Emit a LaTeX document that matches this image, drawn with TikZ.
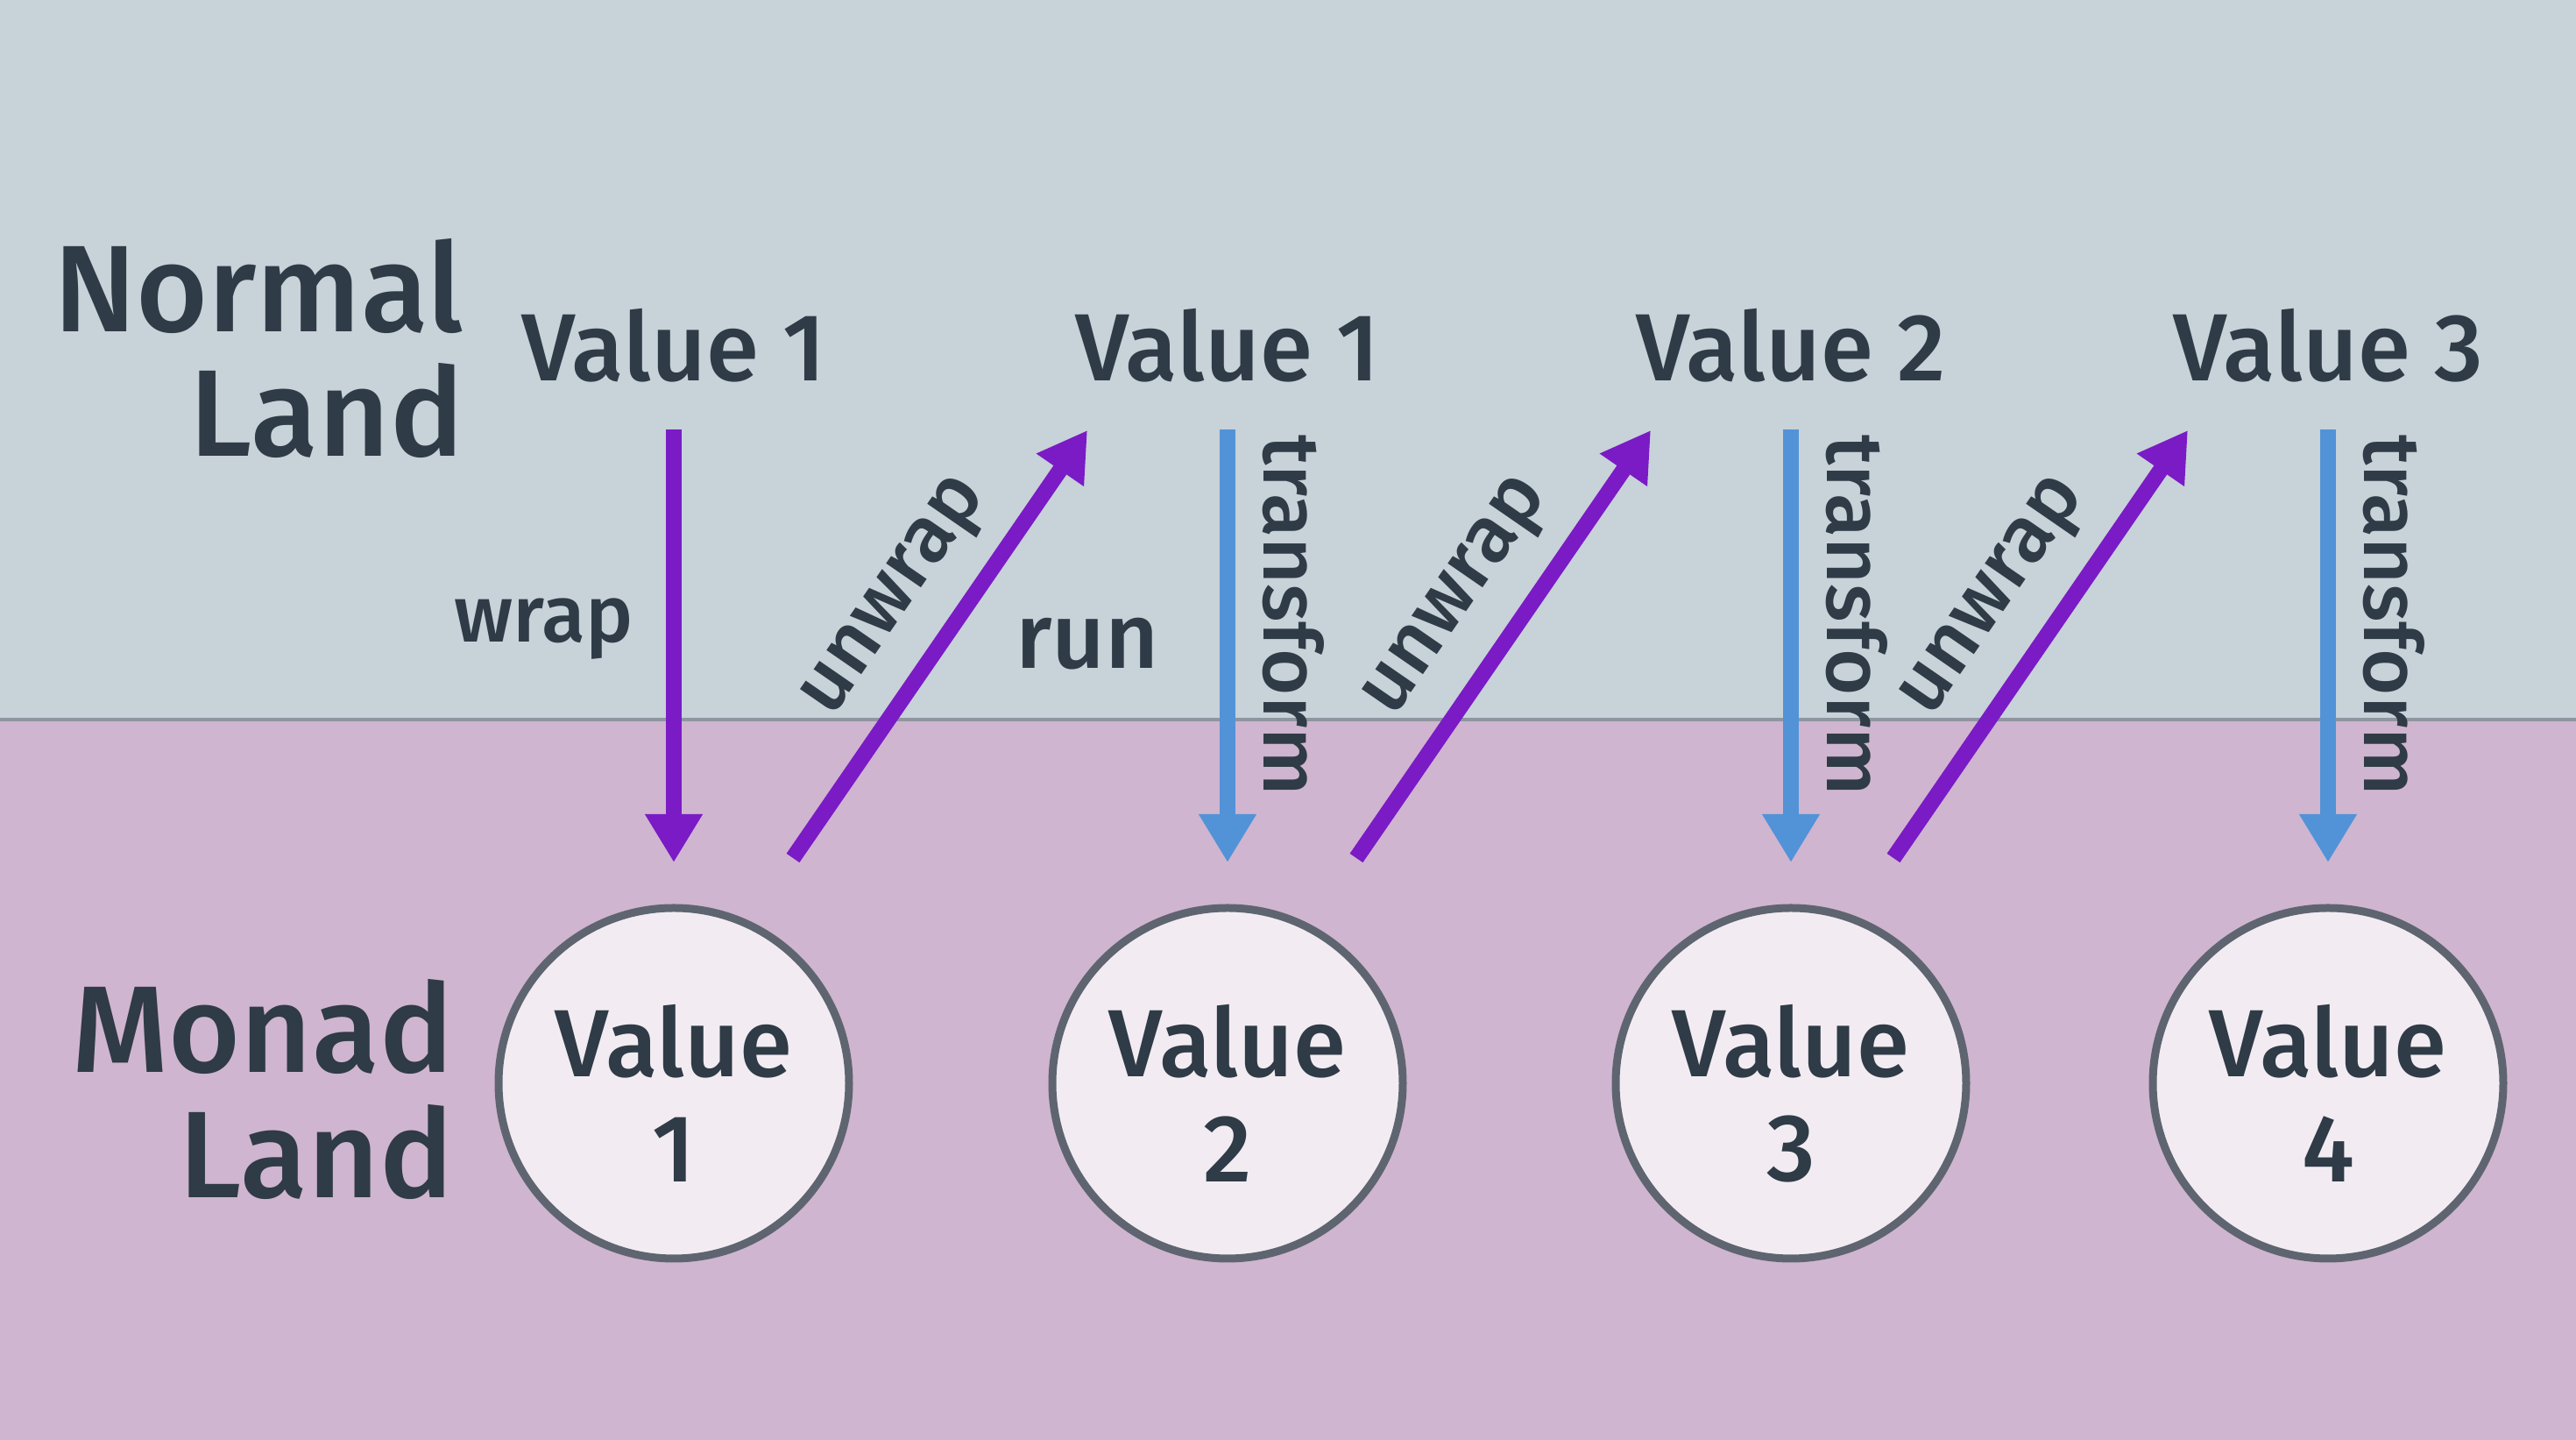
\documentclass[tikz,border=0pt]{standalone}
\usepackage{fontspec}
\setmainfont{Fira Sans}[UprightFont={* Medium}]
\usetikzlibrary{arrows.meta}

\definecolor{normalbg}{HTML}{C8D2D9}
\definecolor{monadbg}{HTML}{CFB5CF}
\definecolor{borderline}{HTML}{8F96A0}
\definecolor{ink}{HTML}{2F3B46}
\definecolor{wrapcol}{HTML}{7A1BC6}
\definecolor{runcol}{HTML}{5293D8}
\definecolor{bubblefill}{HTML}{F2ECF2}
\definecolor{bubbleedge}{HTML}{5E6570}

% lifts the first line so the text sits a little lower in the circle
\newcommand{\bubbletop}{\rule{0pt}{30pt}}

\begin{document}
\begin{tikzpicture}[
    every node/.style={text=ink, inner sep=0pt},
    land/.style={font=\fontsize{40}{40}\selectfont, anchor=base east},
    value/.style={font=\fontsize{31}{31}\selectfont, anchor=base},
    bubble/.style={circle, draw=bubbleedge, fill=bubblefill, line width=0.09cm,
        minimum size=4cm, align=center, font=\fontsize{31}{34}\selectfont},
    lbl/.style={font=\fontsize{26}{26}\selectfont},
    wraparrow/.style={draw=wrapcol, line width=0.18cm,
        -{Triangle[width=0.62cm, length=0.55cm]}},
    runarrow/.style={draw=runcol, line width=0.18cm,
        -{Triangle[width=0.62cm, length=0.55cm]}},
    down/.style={shorten <=0.53cm, shorten >=0.475cm}
]
    \useasboundingbox (0, 0) rectangle (29.4, 16.43);

    % Lands
    \fill[normalbg] (0, 8.22) rectangle (29.4, 16.43);
    \fill[monadbg] (0, 0) rectangle (29.4, 8.22);
    \draw[borderline, line width=0.035cm] (0, 8.22) -- (29.4, 8.22);

    \node[land] (normal) at (5.30, 12.64) {Normal};
    \node[land] (nland) at (5.30, 11.22) {Land};
    \node[land] (monad) at (5.18, 4.19) {Monad};
    \node[land] (mland) at (5.18, 2.76) {Land};

    % Normal values
    \node[value] (t1) at (7.69, 12.08) {Value 1};
    \node[value] (t2) at (14.01, 12.08) {Value 1};
    \node[value] (t3) at (20.44, 12.08) {Value 2};
    \node[value] (t4) at (26.57, 12.08) {Value 3};

    % Monad values
    \node[bubble] (m1) at (7.69, 4.07) {\bubbletop Value\\1};
    \node[bubble] (m2) at (14.01, 4.07) {\bubbletop Value\\2};
    \node[bubble] (m3) at (20.44, 4.07) {\bubbletop Value\\3};
    \node[bubble] (m4) at (26.57, 4.07) {\bubbletop Value\\4};

    % wrap
    \draw[wraparrow, down] (t1) -- (m1);
    \node[lbl, anchor=base] (wrap) at (6.21, 9.10) {wrap};

    % transform
    \draw[runarrow, down] (t2) -- (m2);
    \draw[runarrow, down] (t3) -- (m3);
    \draw[runarrow, down] (t4) -- (m4);
    \node[lbl, rotate=-90] (tr1) at (14.76, 9.41) {transform};
    \node[lbl, rotate=-90] (tr2) at (21.19, 9.41) {transform};
    \node[lbl, rotate=-90] (tr3) at (27.32, 9.41) {transform};

    % unwrap
    \coordinate (u1) at ([shift={(-4.96, -5.44)}]t2.base);
    \coordinate (u2) at ([shift={(-4.96, -5.44)}]t3.base);
    \coordinate (u3) at ([shift={(-4.96, -5.44)}]t4.base);
    \draw[wraparrow] (u1) -- ([shift={(-1.60, -0.56)}]t2.base);
    \draw[wraparrow] (u2) -- ([shift={(-1.60, -0.56)}]t3.base);
    \draw[wraparrow] (u3) -- ([shift={(-1.60, -0.56)}]t4.base);
    \node[lbl, rotate=55.4] (uw1) at (10.25, 9.60) {unwrap};
    \node[lbl, rotate=55.4] (uw2) at (16.66, 9.60) {unwrap};
    \node[lbl, rotate=55.4] (uw3) at (22.79, 9.60) {unwrap};

    % run
    \node[lbl, font=\fontsize{30}{30}\selectfont, anchor=base] (run) at (12.41, 8.80) {run};
\end{tikzpicture}
\end{document}
